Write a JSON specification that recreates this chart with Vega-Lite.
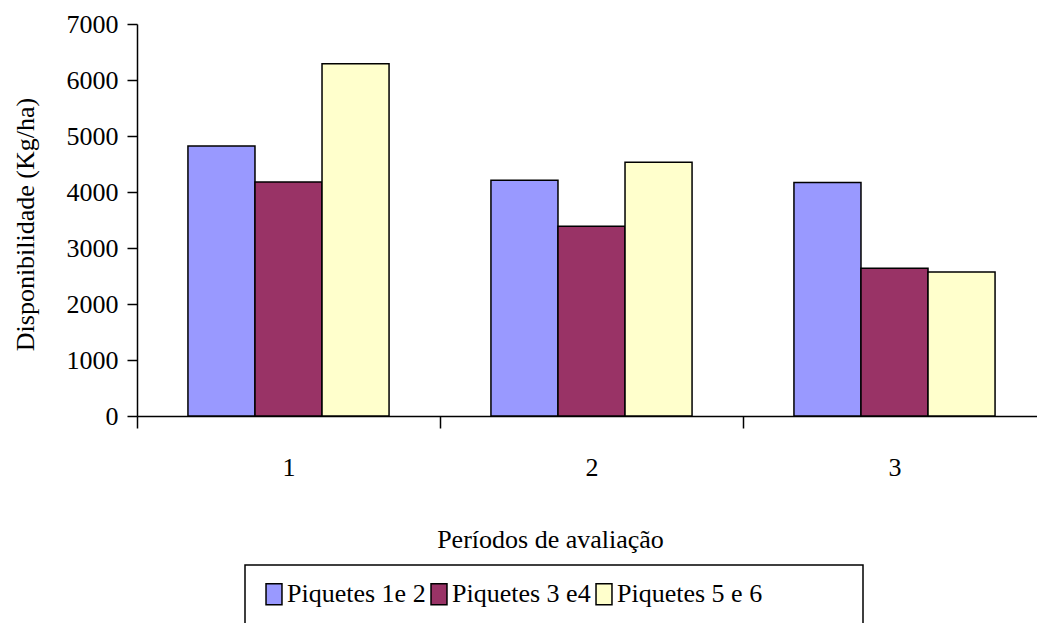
{
  "$schema": "https://vega.github.io/schema/vega-lite/v6.json",
  "autosize": {"type": "none"},
  "width": 900,
  "height": 392,
  "padding": {"left": 137, "top": 24, "right": 0, "bottom": 207},
  "background": "white",
  "config": {
    "view": {"stroke": null},
    "font": "Liberation Serif",
    "text": {"font": "Liberation Serif"},
    "axis": {
      "labelFont": "Liberation Serif",
      "titleFont": "Liberation Serif",
      "labelColor": "black",
      "titleColor": "black",
      "domainColor": "black",
      "tickColor": "black",
      "domainWidth": 1.5,
      "tickWidth": 1.5,
      "labelFontSize": 26,
      "titleFontSize": 26,
      "titleFontWeight": "normal",
      "grid": false
    },
    "legend": {
      "labelFont": "Liberation Serif",
      "titleFont": "Liberation Serif",
      "labelFontSize": 26,
      "labelColor": "black"
    }
  },
  "data": {
    "values": [
      {"periodo": "1", "serie": "Piquetes 1e 2", "valor": 4820},
      {"periodo": "1", "serie": "Piquetes 3 e4", "valor": 4180},
      {"periodo": "1", "serie": "Piquetes 5 e 6", "valor": 6290},
      {"periodo": "2", "serie": "Piquetes 1e 2", "valor": 4210},
      {"periodo": "2", "serie": "Piquetes 3 e4", "valor": 3390},
      {"periodo": "2", "serie": "Piquetes 5 e 6", "valor": 4530},
      {"periodo": "3", "serie": "Piquetes 1e 2", "valor": 4170},
      {"periodo": "3", "serie": "Piquetes 3 e4", "valor": 2640},
      {"periodo": "3", "serie": "Piquetes 5 e 6", "valor": 2570}
    ]
  },
  "mark": {"type": "bar", "stroke": "black", "strokeWidth": 1.5},
  "encoding": {
    "x": {
      "field": "periodo",
      "type": "ordinal",
      "scale": {"range": [0, 909], "paddingInner": 0, "paddingOuter": 0},
      "axis": {
        "title": "Períodos de avaliação",
        "labelFont": "Liberation Serif",
        "titleFont": "Liberation Serif",
        "labelFontSize": 26,
        "titleFontSize": 26,
        "labelAngle": 0,
        "tickBand": "extent",
        "tickSize": 12,
        "labelBaseline": "alphabetic",
        "labelPadding": 47,
        "titleX": 413,
        "titleY": 131,
        "titleAlign": "center",
        "titleBaseline": "alphabetic"
      }
    },
    "xOffset": {
      "field": "serie",
      "type": "nominal",
      "scale": {"paddingOuter": 0.76, "paddingInner": 0}
    },
    "y": {
      "field": "valor",
      "type": "quantitative",
      "scale": {"domain": [0, 7000], "nice": false},
      "axis": {
        "title": "Disponibilidade (Kg/ha)",
        "format": "d",
        "labelFont": "Liberation Serif",
        "titleFont": "Liberation Serif",
        "labelFontSize": 26,
        "titleFontSize": 26,
        "values": [0, 1000, 2000, 3000, 4000, 5000, 6000, 7000],
        "tickSize": 10,
        "labelPadding": 9,
        "titleX": -112,
        "titleY": 200,
        "titleAlign": "center",
        "titleBaseline": "middle",
        "titleAngle": -90
      }
    },
    "color": {
      "field": "serie",
      "type": "nominal",
      "scale": {
        "domain": ["Piquetes 1e 2", "Piquetes 3 e4", "Piquetes 5 e 6"],
        "range": ["#9999FF", "#993366", "#FFFFCC"]
      },
      "legend": {
        "title": " ",
        "titleOrient": "right",
        "titlePadding": 85,
        "titleFontSize": 10,
        "orient": "none",
        "legendX": 108,
        "legendY": 541,
        "direction": "horizontal",
        "columns": 3,
        "gridAlign": "each",
        "columnPadding": -2,
        "labelOffset": 0,
        "labelLimit": 0,
        "labelFont": "Liberation Serif",
        "labelFontSize": 26,
        "padding": 16,
        "strokeColor": "black",
        "fillColor": "white",
        "symbolType": "M-0.76,-1H0.76V1H-0.76Z",
        "symbolSize": 441,
        "symbolStrokeColor": "black",
        "symbolStrokeWidth": 1.5,
        "symbolOpacity": 1,
        "encode": {
          "legend": {"update": {"strokeWidth": {"value": 1.5}}},
          "symbols": {"update": {"size": {"value": 441}, "shape": {"value": "M-0.76,-1H0.76V1H-0.76Z"}, "stroke": {"value": "black"}, "strokeWidth": {"value": 1.5}}},
          "labels": {"update": {"font": {"value": "Liberation Serif"}, "fontSize": {"value": 26}}}
        }
      }
    }
  }
}
